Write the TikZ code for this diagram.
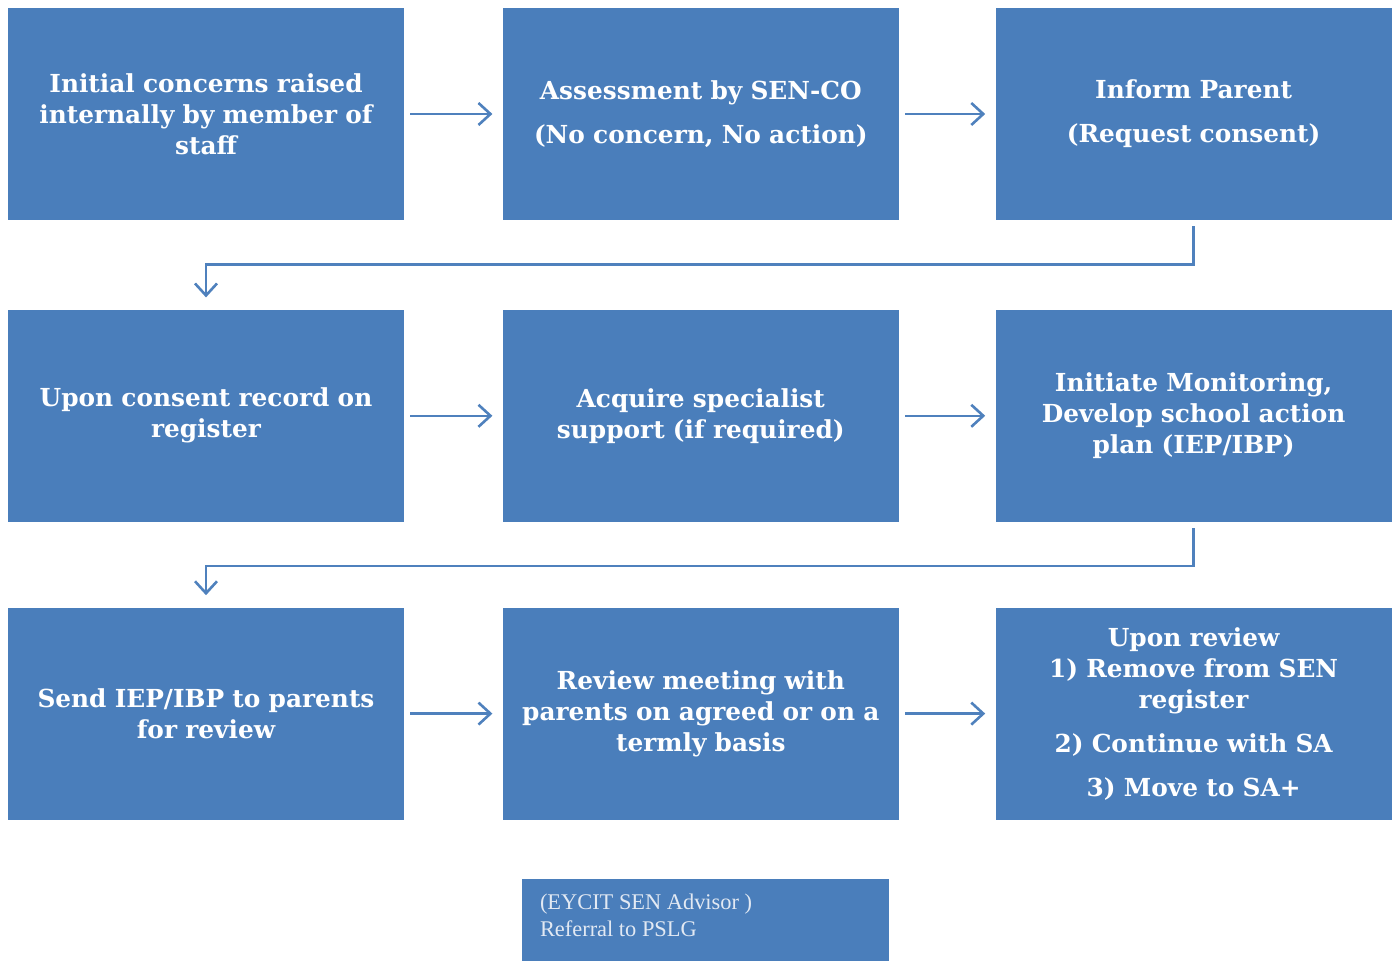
\documentclass[tikz,border=0pt]{standalone}
\usepackage{fontspec}
\setmainfont{DejaVu Serif}
\newfontfamily\notefont{Liberation Serif}
\usepackage{xcolor}
\usetikzlibrary{arrows.meta, positioning, calc}

\definecolor{boxblue}{RGB}{74,126,187}
\definecolor{lineblue}{RGB}{79,129,189}
\definecolor{notewhite}{RGB}{226,233,243}

\begin{document}
\begin{tikzpicture}[x=0.5pt, y=-0.5pt]
\tikzstyle{stage}=[rectangle, fill=boxblue, minimum width=198pt, minimum height=106pt, text width=194pt, align=center, text=white, font=\fontsize{12.4}{15.5}\selectfont\bfseries, inner sep=0pt]
\tikzstyle{flow}=[draw=lineblue, line width=1.2pt, -{Straight Barb[length=6pt, width=11pt, line width=1.3pt]}]

\useasboundingbox (0,0) rectangle (1397,962);

% first row
\node[stage] (c1) at (206,114) {Initial concerns raised\\internally by member of\\staff};
\node[stage, right=49pt of c1] (c2) {Assessment by SEN-CO\\[6.5pt](No concern, No action)};
\node[stage, right=48pt of c2] (c3) {Inform Parent\\[6.5pt](Request consent)};

% second row
\node[stage, below=44.5pt of c1] (d1) {Upon consent record on\\register};
\node[stage, right=49pt of d1] (d2) {Acquire specialist\\support (if required)};
\node[stage, right=48pt of d2] (d3) {Initiate Monitoring,\\Develop school action\\plan (IEP/IBP)};

% third row
\node[stage, below=42.5pt of d1] (e1) {Send IEP/IBP to parents\\for review};
\node[stage, right=49pt of e1] (e2) {Review meeting with\\parents on agreed or on a\\termly basis};
\node[stage, right=48pt of e2] (e3) {Upon review\\1) Remove from SEN\\register\\[6.5pt]2) Continue with SA\\[6.5pt]3) Move to SA+};

% referral note
\node[rectangle, fill=boxblue, inner xsep=9pt, inner ysep=0pt, text=notewhite, font=\notefont\fontsize{11.2}{13.5}\selectfont] (ref) at (705.5,920)
  {\parbox[c][41pt][t]{165.5pt}{\raggedright\vspace*{7.5pt}(EYCIT SEN Advisor )\\Referral to PSLG}};

\draw[flow] ([xshift=3pt]c1.east) -- ([xshift=-5pt]c2.west);
\draw[flow] ([xshift=3pt]c2.east) -- ([xshift=-5pt]c3.west);
\draw[flow] ([xshift=3pt]d1.east) -- ([xshift=-5pt]d2.west);
\draw[flow] ([xshift=3pt]d2.east) -- ([xshift=-5pt]d3.west);
\draw[flow] ([xshift=3pt]e1.east) -- ([xshift=-5pt]e2.west);
\draw[flow] ([xshift=3pt]e2.east) -- ([xshift=-5pt]e3.west);

\coordinate (k1) at ($(c3.south)+(0,-22pt)$);
\coordinate (k2) at ($(d3.south)+(0,-22pt)$);
\draw[flow] ([yshift=-3pt]c3.south) -- (k1) -| ([yshift=6pt]d1.north);
\draw[flow] ([yshift=-3pt]d3.south) -- (k2) -| ([yshift=6pt]e1.north);
\end{tikzpicture}
\end{document}
